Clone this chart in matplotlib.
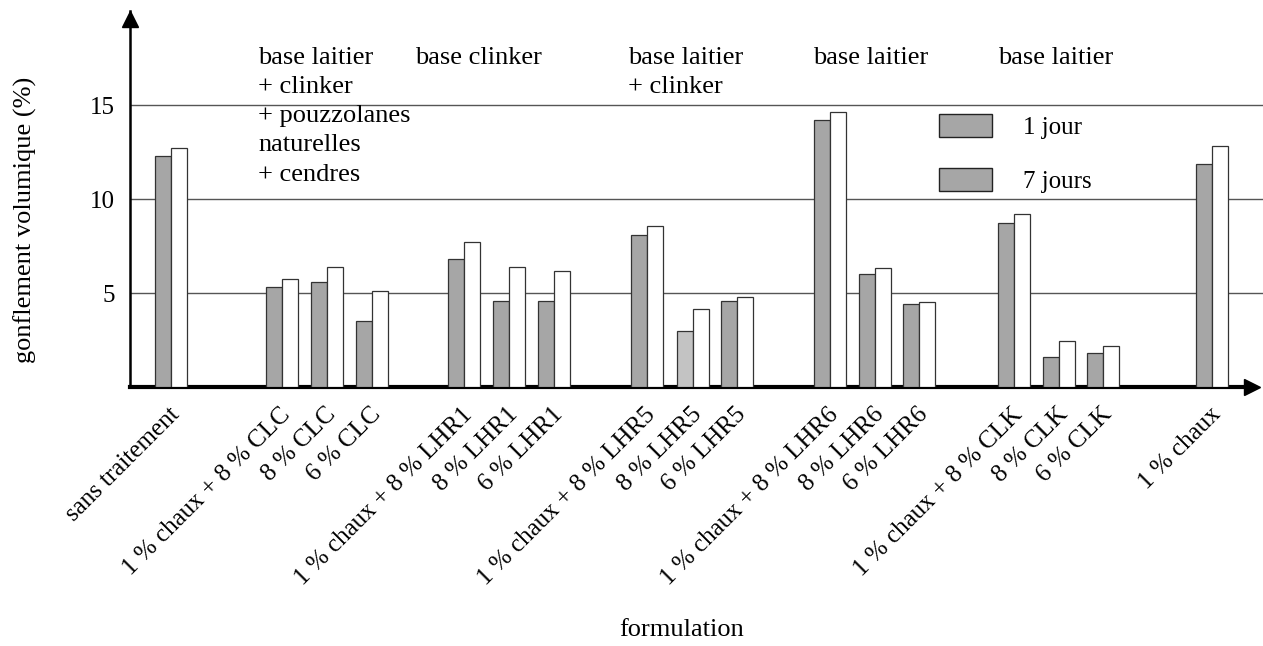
import matplotlib
matplotlib.use("Agg")
import matplotlib.pyplot as plt
import matplotlib.transforms as mtransforms
from matplotlib.patches import Patch

plt.rcParams["font.family"] = ["Liberation Serif", "DejaVu Serif"]

# ---------------- data ----------------
formulations = [
    "sans traitement",
    "1 % chaux + 8 % CLC", "8 % CLC", "6 % CLC",
    "1 % chaux + 8 % LHR1", "8 % LHR1", "6 % LHR1",
    "1 % chaux + 8 % LHR5", "8 % LHR5", "6 % LHR5",
    "1 % chaux + 8 % LHR6", "8 % LHR6", "6 % LHR6",
    "1 % chaux + 8 % CLK", "8 % CLK", "6 % CLK",
    "1 % chaux",
]
jour_1 = [12.3, 5.3, 5.6, 3.5, 6.8, 4.55, 4.55, 8.1, 3.0, 4.6,
          14.2, 6.0, 4.4, 8.75, 1.6, 1.8, 11.85]
jours_7 = [12.7, 5.75, 6.4, 5.1, 7.7, 6.4, 6.15, 8.55, 4.15, 4.8,
           14.65, 6.35, 4.5, 9.2, 2.45, 2.2, 12.8]
legend_labels = ["1 jour", "7 jours"]
group_notes = [
    "base laitier\n+ clinker\n+ pouzzolanes\nnaturelles\n+ cendres",
    "base clinker",
    "base laitier\n+ clinker",
    "base laitier",
    "base laitier",
]

# ---------------- layout (pixel-like x units) ----------------
pair_left = [155, 266, 311, 356, 448, 493, 538, 631, 677, 721,
             814, 859, 903, 998, 1043, 1087, 1196]
note_x = [258, 415, 628, 813, 998]
bar_w = 16
gray_cols = ["#a6a6a6"] * len(formulations)
gray_cols[8] = "#c3c3c3"

W, H = 1263, 646
fig = plt.figure(figsize=(W / 100, H / 100), dpi=100)
ax = fig.add_axes([130 / W, 259 / H, (W - 130) / W, 376 / H])
ax.set_xlim(130, W)
ax.set_ylim(0, 20)

g1 = [x + bar_w / 2 for x in pair_left]
g7 = [x + bar_w * 1.5 for x in pair_left]
ax.bar(g1, jour_1, width=bar_w, color=gray_cols, edgecolor="#333333", linewidth=0.9, zorder=3)
ax.bar(g7, jours_7, width=bar_w, color="white", edgecolor="#333333", linewidth=0.9, zorder=3)

# grid
ax.set_yticks([5, 10, 15])
ax.yaxis.grid(True, color="#555555", linewidth=1)
ax.set_axisbelow(True)
ax.tick_params(axis="y", length=0, pad=11, labelsize=18)

# axes with arrows
for s in ["top", "right"]:
    ax.spines[s].set_visible(False)
ax.spines["left"].set_linewidth(1.8)
ax.spines["bottom"].set_linewidth(3)
ax.spines["bottom"].set_bounds(130, 1250)
ax.plot([1252], [0], ">", color="black", markersize=11, clip_on=False, zorder=5)
ax.plot([130], [19.6], "^", color="black", markersize=11, clip_on=False, zorder=5)

# x tick labels
ax.set_xticks(g7)
ax.set_xticklabels(formulations, rotation=45, ha="right", fontsize=18)
ax.tick_params(axis="x", length=0, pad=12)
offset = mtransforms.ScaledTranslation(5 / 100, 0, fig.dpi_scale_trans)
for lab in ax.get_xticklabels():
    lab.set_transform(lab.get_transform() + offset)

# group notes
for x, txt in zip(note_x, group_notes):
    fig.text(x / W, 1 - 47 / H, txt, fontsize=19, va="top", ha="left", linespacing=1.42)

# legend (both boxes drawn gray, as in the original)
handles = [Patch(facecolor="#a6a6a6", edgecolor="#222222", linewidth=1) for _ in legend_labels]
ax.legend(handles, legend_labels, loc="upper left",
          bbox_to_anchor=(939 / W, 1 - 114 / H), bbox_transform=fig.transFigure,
          frameon=False, fontsize=18, borderpad=0, borderaxespad=0,
          handlelength=2.1, handleheight=1.05, handletextpad=1.25, labelspacing=1.15)

fig.text(25 / W, 1 - 220 / H, "gonflement volumique (%)", rotation=90,
         fontsize=19, ha="center", va="center")
fig.text(682 / W, 1 - 630 / H, "formulation", fontsize=19, ha="center", va="center")

fig.savefig("out.png", dpi=100)
